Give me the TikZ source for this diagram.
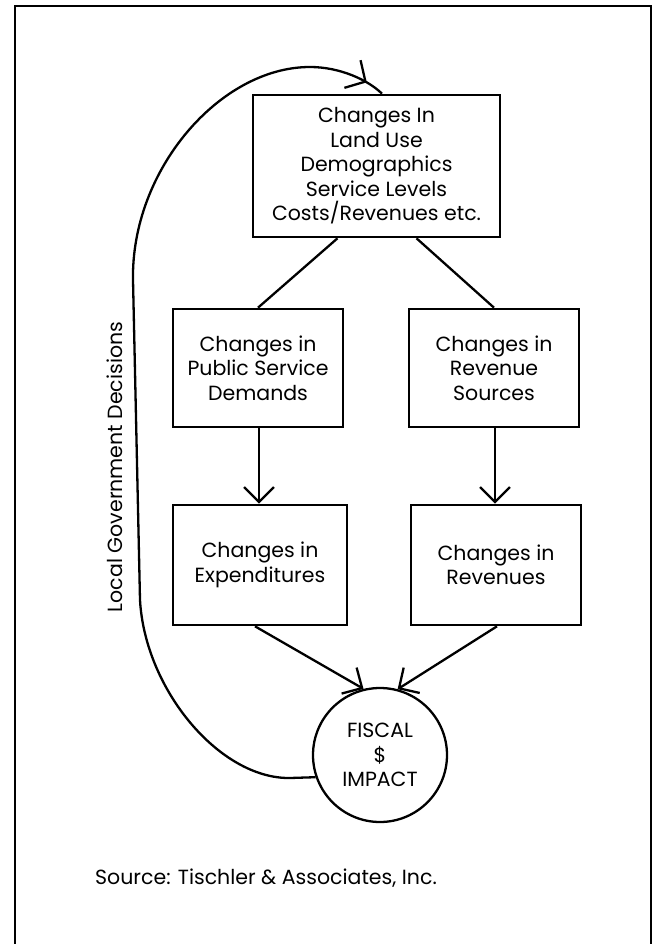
\documentclass[tikz,border=0pt]{standalone}
\usepackage{fontspec}
\setmainfont{Poppins}
\usetikzlibrary{arrows.meta,decorations.markings}
\newcommand{\boxfont}{\fontsize{20.5}{24.5}\selectfont}
\begin{document}
\begin{tikzpicture}[x=1pt,y=-1pt,
  box/.style={draw, line width=2.6pt, inner sep=0pt, align=center, font=\boxfont},
  conn/.style={line width=2.3pt},
  arr/.style={conn, -{Straight Barb[length=15pt,width=30pt]}},
  lbl/.style={font=\boxfont, inner sep=0pt}]
\useasboundingbox (0,0) rectangle (653,944);
% outer frame
\draw[line width=2.6pt] (15,944) -- (15,6) -- (651,6) -- (651,944);
% boxes
\node[box, minimum width=247pt, minimum height=142pt] (top) at (376.5,166)
  {Changes In\\Land Use\\Demographics\\Service Levels\\Costs/Revenues etc.};
\node[box, minimum width=170pt, minimum height=118pt] (psd) at (258,368)
  {Changes in\\Public Service\\Demands};
\node[box, minimum width=170pt, minimum height=118pt] (rs) at (494,368)
  {Changes in\\Revenue\\Sources};
\node[box, minimum width=174pt, minimum height=120pt] (exp) at (260,565)
  {Changes in\\Expenditures};
\node[box, minimum width=170pt, minimum height=120pt] (rev) at (496,565)
  {Changes in\\Revenues};
\node[circle, draw, line width=2.3pt, minimum size=134pt, inner sep=0pt,
  align=center, font=\boxfont] (fi) at (380,755) {FISCAL\\\$\\IMPACT};
% connectors
\draw[conn] ([xshift=-39pt]top.south) -- (psd.north);
\draw[conn] ([xshift=40pt]top.south) -- (rs.north);
\draw[arr] ([xshift=1pt]psd.south) -- ([xshift=-1pt]exp.north);
\draw[arr] ([xshift=1pt]rs.south) -- ([xshift=-1pt]rev.north);
\draw[arr] ([xshift=-5pt]exp.south) -- (fi.104);
\draw[arr] ([xshift=1pt]rev.south) -- (fi.75);
% feedback loop
\coordinate (f1) at (290,778);
\coordinate (f2) at (140,600);
\coordinate (f3) at (133,280);
\coordinate (f4) at (310,67);
\coordinate (f5) at ([xshift=5.5pt]top.north);
\draw[conn, decoration={markings, mark=at position -19pt with {\arrow{Straight Barb[length=15pt,width=32pt]}}}, postaction={decorate}]
  (fi.199) -- (f1) .. controls (220,779) and (145,690) .. (f2)
  -- (f3) .. controls (131,170) and (220,67) .. (f4)
  .. controls (340,67) and (368,80) .. (f5);
\node[lbl, rotate=90] (lgd) at (115,467) {Local Government Decisions};
\node[lbl, anchor=west] (src) at (95,878) {Source: Tischler \& Associates, Inc.};
\end{tikzpicture}
\end{document}
